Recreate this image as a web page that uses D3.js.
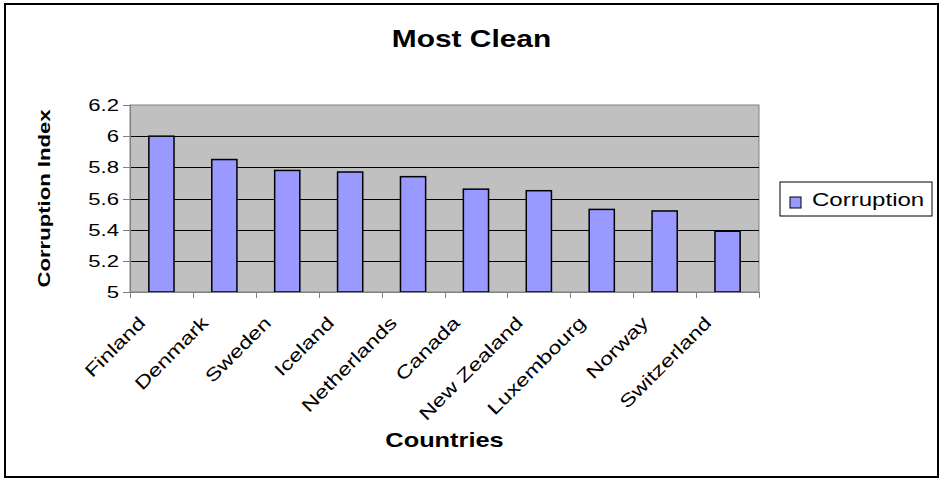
<!DOCTYPE html>
<html>
<head>
<meta charset="utf-8" />
<title>Most Clean</title>
<style>
html, body {
    margin: 0px;
    padding: 0px;
    background: #fff;
}
svg text {
    font-family: Arial, "Liberation Sans", sans-serif;
    fill: #000;
}
.axis path, .axis line {
    stroke: #808080;
    shape-rendering: crispEdges;
}
</style>
</head>
<body>
<svg id="chart" width="941" height="480"></svg>

<script src="https://cdnjs.cloudflare.com/ajax/libs/d3/7.8.5/d3.min.js"></script>
<script>
var countries = ["Finland", "Denmark", "Sweden", "Iceland", "Netherlands",
                 "Canada", "New Zealand", "Luxembourg", "Norway", "Switzerland"];
var corruption = [6.0, 5.85, 5.78, 5.77, 5.74, 5.66, 5.65, 5.53, 5.52, 5.39];
var yTicks = [5, 5.2, 5.4, 5.6, 5.8, 6, 6.2];
var seriesName = "Corruption";

!(function(){
    "use strict"

    var plot = {left: 130, top: 105, right: 759, bottom: 292};
    var stretch = 1.3;   // the original font renders wide, so stretch glyphs along the baseline

    var svg = d3.select("#chart");

    // outer chart frame
    svg.append("rect")
        .attr("x", 5).attr("y", 4)
        .attr("width", 933).attr("height", 473)
        .attr("fill", "#fff")
        .attr("stroke", "#000")
        .attr("stroke-width", 2);

    var x = d3.scaleBand()
        .domain(countries)
        .range([plot.left, plot.right])
        .paddingInner(0.6)
        .paddingOuter(0.3);

    // category boundaries for the tick marks
    var xEdge = d3.scaleLinear()
        .domain([0, countries.length])
        .range([plot.left, plot.right]);

    var y = d3.scaleLinear()
        .domain([5, 6.2])
        .range([plot.bottom, plot.top]);

    function label(txt, px, py, angle, size, weight, anchor) {
        return svg.append("text")
            .attr("transform", "translate(" + px + "," + py + ") rotate(" + angle + ") scale(" + stretch + ",1)")
            .attr("text-anchor", anchor)
            .attr("font-size", size)
            .attr("font-weight", weight)
            .text(txt);
    }

    // plot area
    svg.append("rect")
        .attr("x", plot.left).attr("y", plot.top)
        .attr("width", plot.right - plot.left)
        .attr("height", plot.bottom - plot.top)
        .attr("fill", "#c0c0c0")
        .attr("stroke", "#808080");

    svg.append("g")
        .selectAll("line")
        .data(yTicks.filter(function(d){ return d > 5 && d < 6.2; }))
        .enter()
        .append("line")
        .attr("x1", plot.left).attr("x2", plot.right)
        .attr("y1", function(d){ return Math.round(y(d)) + 0.5; })
        .attr("y2", function(d){ return Math.round(y(d)) + 0.5; })
        .attr("stroke", "#000");

    // bars
    svg.append("g")
        .selectAll("rect")
        .data(corruption)
        .enter()
        .append("rect")
        .attr("x", function(d, i){ return x(countries[i]); })
        .attr("y", function(d){ return y(d); })
        .attr("width", x.bandwidth())
        .attr("height", function(d){ return y(5) - y(d); })
        .attr("fill", "#9999ff")
        .attr("stroke", "#000")
        .attr("stroke-width", 1.5);

    // axes
    svg.append("g")
        .attr("class", "axis")
        .attr("transform", "translate(" + plot.left + ",0)")
        .call(d3.axisLeft(y).tickValues(yTicks).tickSize(7).tickFormat(""));

    svg.append("g")
        .attr("class", "axis")
        .attr("transform", "translate(0," + plot.bottom + ")")
        .call(d3.axisBottom(xEdge).tickValues(d3.range(countries.length + 1)).tickSize(6).tickFormat(""));

    yTicks.forEach(function(d){
        label(d3.format("")(d), plot.left - 11, y(d), 0, 17, "normal", "end")
            .attr("dy", "0.36em");
    });

    countries.forEach(function(c){
        label(c, x(c) + x.bandwidth() / 2 - 15, plot.bottom + 32, -45, 18, "normal", "end");
    });

    // titles
    label("Most Clean", 471.5, 47, 0, 23, "bold", "middle");
    label("Countries", (plot.left + plot.right) / 2, 447, 0, 19.5, "bold", "middle");
    label("Corruption Index", 50, (plot.top + plot.bottom) / 2, -90, 17, "bold", "middle");

    // legend
    var lg = svg.append("g");
    lg.append("rect")
        .attr("x", 780).attr("y", 182)
        .attr("width", 152).attr("height", 34)
        .attr("fill", "#fff")
        .attr("stroke", "#000");
    lg.append("rect")
        .attr("x", 790).attr("y", 197)
        .attr("width", 11).attr("height", 11)
        .attr("fill", "#9999ff")
        .attr("stroke", "#000");
    label(seriesName, 812, 205.5, 0, 18.5, "normal", "start");

}());
</script>
</body>
</html>
